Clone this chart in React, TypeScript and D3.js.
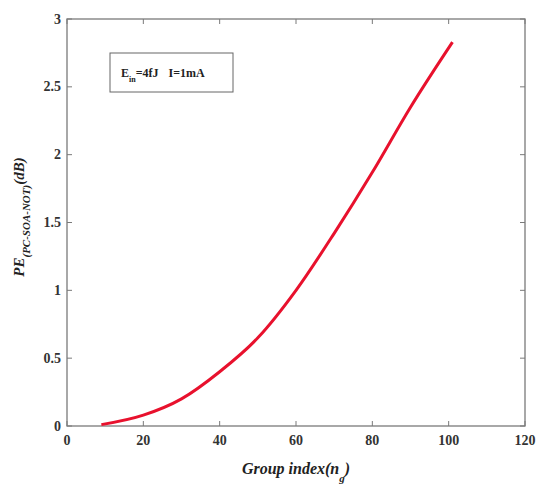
import React from "react";
import * as d3 from "d3";

const xValues = [9, 20, 30, 40, 50, 60, 70, 80, 90, 101];
const yValues = [0.01, 0.08, 0.2, 0.4, 0.65, 1.0, 1.42, 1.87, 2.35, 2.83];
const xTicks = [0, 20, 40, 60, 80, 100, 120];
const yTicks = [0, 0.5, 1, 1.5, 2, 2.5, 3];

export default function App() {
  const W = 539, H = 491;
  const left = 67, right = 525, top = 19, bottom = 426;
  const x = d3.scaleLinear().domain([0, 120]).range([left, right]);
  const y = d3.scaleLinear().domain([0, 3]).range([bottom, top]);
  const pts = xValues.map((v, i) => [v, yValues[i]] as [number, number]);
  const line = d3.line<[number, number]>().x(d => x(d[0])).y(d => y(d[1])).curve(d3.curveMonotoneX);
  const axisColor = "#7a7a7a";
  const font = "'Liberation Serif', 'Times New Roman', serif";
  return (
    <svg width={W} height={H} style={{ position: "absolute", left: 0, top: 0 }} fontFamily={font}>
      <rect x={0} y={0} width={W} height={H} fill="#fff" />
      <rect x={left} y={top} width={right - left} height={bottom - top} fill="none" stroke={axisColor} strokeWidth={1.3} />
      {xTicks.map(t => (
        <g key={"x" + t}>
          <line x1={x(t)} x2={x(t)} y1={bottom} y2={bottom - 5} stroke={axisColor} />
          <line x1={x(t)} x2={x(t)} y1={top} y2={top + 5} stroke={axisColor} />
          <text x={x(t)} y={bottom + 19} textAnchor="middle" fontSize={14} fontWeight="bold" fill="#333">{t}</text>
        </g>
      ))}
      {yTicks.map(t => (
        <g key={"y" + t}>
          <line x1={left} x2={left + 5} y1={y(t)} y2={y(t)} stroke={axisColor} />
          <line x1={right} x2={right - 5} y1={y(t)} y2={y(t)} stroke={axisColor} />
          <text x={left - 6} y={y(t) + 4.5} textAnchor="end" fontSize={14} fontWeight="bold" fill="#333">{t}</text>
        </g>
      ))}
      <path d={line(pts) || ""} fill="none" stroke="#e8112d" strokeWidth={3} />
      <rect x={110} y={53} width={123} height={39} fill="#fff" stroke="#666" strokeWidth={1} />
      <text x={121} y={77} fontSize={12} fontWeight="bold" fill="#222">
        E<tspan dy={5} fontSize={8}>in</tspan><tspan dy={-5}>=4fJ</tspan><tspan dx={10}>I=1mA</tspan>
      </text>
      <text x={296} y={474} textAnchor="middle" fontSize={16} fontWeight="bold" fontStyle="italic" fill="#222">
        Group index(n<tspan dy={8} fontSize={11}>g</tspan><tspan dy={-8}>)</tspan>
      </text>
      <text transform="translate(24,217) rotate(-90)" textAnchor="middle" fontSize={15} fontWeight="bold" fontStyle="italic" fill="#222">
        PE<tspan dy={6} fontSize={11}>(PC-SOA-NOT)</tspan><tspan dy={-6}>(dB)</tspan>
      </text>
    </svg>
  );
}
